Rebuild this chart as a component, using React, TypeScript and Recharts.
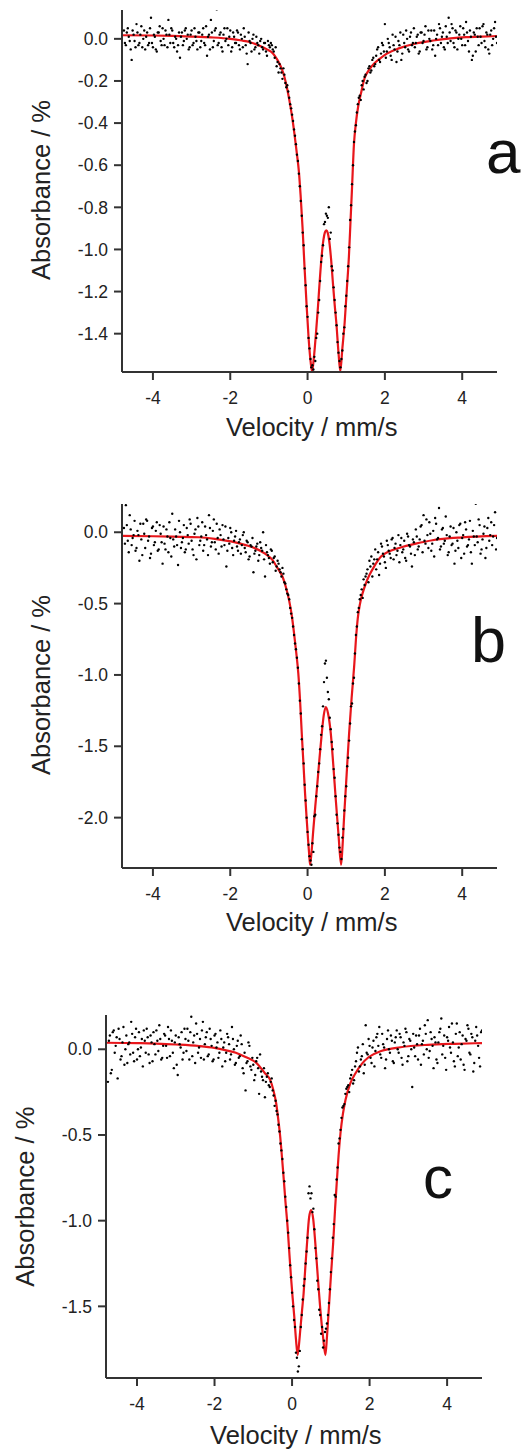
import React from "react";
import { ComposedChart, Line, Scatter, XAxis, YAxis, Label } from "recharts";

// velocity channels (mm/s), even and odd halves of the spectrum
const VELOCITY = [
  -4.75, -4.7, -4.65, -4.6, -4.55, -4.5, -4.45, -4.4, -4.35, -4.3,
  -4.25, -4.2, -4.15, -4.1, -4.05, -4, -3.95, -3.9, -3.85, -3.8,
  -3.75, -3.7, -3.65, -3.6, -3.55, -3.5, -3.45, -3.4, -3.35, -3.3,
  -3.25, -3.2, -3.15, -3.1, -3.05, -3, -2.95, -2.9, -2.85, -2.8,
  -2.75, -2.7, -2.65, -2.6, -2.55, -2.5, -2.45, -2.4, -2.35, -2.3,
  -2.25, -2.2, -2.15, -2.1, -2.05, -2, -1.95, -1.9, -1.85, -1.8,
  -1.75, -1.7, -1.65, -1.6, -1.55, -1.5, -1.45, -1.4, -1.35, -1.3,
  -1.25, -1.2, -1.15, -1.1, -1.05, -1, -0.95, -0.9, -0.85, -0.8,
  -0.75, -0.7, -0.65, -0.6, -0.55, -0.5, -0.45, -0.4, -0.35, -0.3,
  -0.25, -0.2, -0.15, -0.1, -0.05, 0, 0.05, 0.1, 0.15, 0.2,
  0.25, 0.3, 0.35, 0.4, 0.45, 0.5, 0.55, 0.6, 0.65, 0.7,
  0.75, 0.8, 0.85, 0.9, 0.95, 1, 1.05, 1.1, 1.15, 1.2,
  1.25, 1.3, 1.35, 1.4, 1.45, 1.5, 1.55, 1.6, 1.65, 1.7,
  1.75, 1.8, 1.85, 1.9, 1.95, 2, 2.05, 2.1, 2.15, 2.2,
  2.25, 2.3, 2.35, 2.4, 2.45, 2.5, 2.55, 2.6, 2.65, 2.7,
  2.75, 2.8, 2.85, 2.9, 2.95, 3, 3.05, 3.1, 3.15, 3.2,
  3.25, 3.3, 3.35, 3.4, 3.45, 3.5, 3.55, 3.6, 3.65, 3.7,
  3.75, 3.8, 3.85, 3.9, 3.95, 4, 4.05, 4.1, 4.15, 4.2,
  4.25, 4.3, 4.35, 4.4, 4.45, 4.5, 4.55, 4.6, 4.65, 4.7,
  4.75, 4.8, 4.85, 4.9,
];

const VELOCITY_ODD = [
  -4.725, -4.675, -4.625, -4.575, -4.525, -4.475, -4.425, -4.375, -4.325, -4.275,
  -4.225, -4.175, -4.125, -4.075, -4.025, -3.975, -3.925, -3.875, -3.825, -3.775,
  -3.725, -3.675, -3.625, -3.575, -3.525, -3.475, -3.425, -3.375, -3.325, -3.275,
  -3.225, -3.175, -3.125, -3.075, -3.025, -2.975, -2.925, -2.875, -2.825, -2.775,
  -2.725, -2.675, -2.625, -2.575, -2.525, -2.475, -2.425, -2.375, -2.325, -2.275,
  -2.225, -2.175, -2.125, -2.075, -2.025, -1.975, -1.925, -1.875, -1.825, -1.775,
  -1.725, -1.675, -1.625, -1.575, -1.525, -1.475, -1.425, -1.375, -1.325, -1.275,
  -1.225, -1.175, -1.125, -1.075, -1.025, -0.975, -0.925, -0.875, -0.825, -0.775,
  -0.725, -0.675, -0.625, -0.575, -0.525, -0.475, -0.425, -0.375, -0.325, -0.275,
  -0.225, -0.175, -0.125, -0.075, -0.025, 0.025, 0.075, 0.125, 0.175, 0.225,
  0.275, 0.325, 0.375, 0.425, 0.475, 0.525, 0.575, 0.625, 0.675, 0.725,
  0.775, 0.825, 0.875, 0.925, 0.975, 1.025, 1.075, 1.125, 1.175, 1.225,
  1.275, 1.325, 1.375, 1.425, 1.475, 1.525, 1.575, 1.625, 1.675, 1.725,
  1.775, 1.825, 1.875, 1.925, 1.975, 2.025, 2.075, 2.125, 2.175, 2.225,
  2.275, 2.325, 2.375, 2.425, 2.475, 2.525, 2.575, 2.625, 2.675, 2.725,
  2.775, 2.825, 2.875, 2.925, 2.975, 3.025, 3.075, 3.125, 3.175, 3.225,
  3.275, 3.325, 3.375, 3.425, 3.475, 3.525, 3.575, 3.625, 3.675, 3.725,
  3.775, 3.825, 3.875, 3.925, 3.975, 4.025, 4.075, 4.125, 4.175, 4.225,
  4.275, 4.325, 4.375, 4.425, 4.475, 4.525, 4.575, 4.625, 4.675, 4.725,
  4.775, 4.825, 4.875,
];

// measured absorbance (%)
const ABS_A = [
  0.04, -0.03, 0.05, -0.01, -0.1, 0.02, -0.04, 0.03, -0.02, 0.06,
  0.0, -0.05, 0.03, -0.02, 0.1, -0.04, 0.01, -0.06, 0.03, -0.01,
  0.05, -0.03, 0.02, 0.09, -0.02, 0.04, -0.04, 0.0, -0.03, -0.09,
  0.03, -0.01, 0.05, 0.02, -0.04, 0.04, -0.02, 0.01, -0.05, 0.03,
  -0.01, 0.05, -0.03, -0.08, 0.02, 0.09, -0.04, 0.04, 0.14, -0.02,
  0.03, -0.06, 0.05, 0.0, -0.03, 0.04, -0.04, 0.01, -0.02, 0.03,
  -0.05, 0.0, 0.05, -0.03, -0.12, -0.01, -0.06, 0.02, -0.04, -0.02,
  -0.07, 0.0, -0.05, -0.02, -0.08, -0.03, -0.02, -0.05, -0.09, -0.13,
  -0.16, -0.14, -0.19, -0.17, -0.23, -0.25, -0.31, -0.36, -0.43, -0.5,
  -0.58, -0.7, -0.84, -0.98, -1.17, -1.32, -1.47, -1.56, -1.57, -1.53,
  -1.4, -1.24, -1.06, -0.98, -0.87, -0.84, -0.8, -0.92, -1.1, -1.24,
  -1.36, -1.49, -1.56, -1.48, -1.37, -1.22, -1.08, -0.86, -0.69, -0.49,
  -0.41, -0.31, -0.27, -0.22, -0.24, -0.17, -0.2, -0.13, -0.15, -0.09,
  -0.12, -0.05, -0.1, -0.07, -0.03, 0.07, -0.06, -0.02, -0.08, 0.02,
  -0.05, -0.11, -0.01, 0.03, -0.07, -0.02, 0.04, -0.05, 0.01, -0.03,
  0.05, -0.02, 0.02, -0.06, 0.03, -0.01, 0.06, -0.04, 0.0, 0.04,
  -0.03, -0.08, 0.02, 0.07, -0.02, 0.03, -0.05, 0.01, 0.1, -0.01,
  0.05, -0.04, 0.03, 0.0, 0.06, -0.03, 0.02, 0.08, -0.01, 0.04,
  -0.1, 0.03, -0.06, 0.01, 0.05, -0.02, 0.07, -0.04, 0.02, -0.07,
  0.04, 0.0, 0.08, -0.02,
];

const ABS_A_ODD = [
  -0.02, 0.03, 0.01, -0.05, 0.04, -0.01, 0.07, -0.03, 0.02, -0.04,
  0.04, 0.01, -0.03, 0.05, -0.02, 0.02, -0.05, 0.03, 0.06, -0.03,
  0.0, 0.04, -0.04, 0.02, 0.05, -0.02, 0.01, -0.06, 0.03, 0.01,
  -0.03, 0.04, 0.0, -0.05, 0.02, -0.03, 0.05, -0.01, 0.03, -0.04,
  0.02, -0.02, 0.06, 0.01, -0.05, 0.03, -0.01, 0.05, -0.03, 0.02,
  -0.04, 0.02, -0.01, 0.05, 0.01, -0.06, 0.03, -0.02, 0.04, -0.03,
  0.02, -0.04, 0.01, -0.07, 0.03, -0.02, 0.0, -0.05, 0.01, -0.03,
  -0.01, -0.04, -0.02, -0.06, -0.01, -0.04, -0.03, -0.06, -0.04, -0.11,
  -0.12, -0.16, -0.14, -0.21, -0.22, -0.28, -0.33, -0.39, -0.46, -0.55,
  -0.64, -0.77, -0.92, -1.09, -1.27, -1.42, -1.52, -1.55, -1.51, -1.42,
  -1.3, -1.15, -1.03, -0.88, -0.83, -0.85, -0.95, -1.08, -1.18, -1.3,
  -1.44, -1.53, -1.52, -1.4, -1.27, -1.15, -0.99, -0.79, -0.6, -0.44,
  -0.35, -0.28, -0.29, -0.2, -0.18, -0.21, -0.14, -0.16, -0.1, -0.13,
  -0.08, -0.04, -0.11, -0.02, -0.06, -0.09, 0.0, -0.04, -0.1, -0.03,
  0.01, -0.06, -0.03, -0.1, 0.02, -0.04, 0.0, -0.06, 0.03, -0.02,
  -0.04, 0.01, -0.07, 0.03, -0.02, 0.02, -0.05, 0.04, -0.01, -0.05,
  0.04, 0.0, -0.03, 0.05, 0.01, -0.04, 0.06, -0.02, 0.03, 0.07,
  -0.02, 0.04, -0.05, 0.02, 0.0, 0.05, -0.03, 0.03, -0.06, 0.01,
  -0.08, 0.02, 0.05, -0.03, 0.01, 0.06, -0.01, 0.03, -0.05, 0.02,
  -0.03, 0.05, 0.01,
];

const ABS_B = [
  0.03, 0.19, -0.06, 0.12, -0.09, -0.02, -0.13, 0.01, -0.2, -0.05,
  0.06, -0.11, 0.08, -0.03, -0.15, 0.04, -0.07, 0.07, -0.12, -0.01,
  -0.22, -0.08, 0.02, -0.14, -0.04, 0.13, -0.1, -0.03, -0.23, 0.0,
  -0.07, 0.05, -0.12, -0.02, 0.09, -0.06, -0.16, 0.02, 0.1, -0.09,
  -0.03, -0.13, 0.04, -0.05, 0.12, -0.1, 0.01, -0.07, 0.06, -0.15,
  -0.02, 0.05, -0.09, -0.24, -0.04, 0.03, -0.11, -0.06, 0.01, -0.13,
  -0.05, -0.09, 0.0, -0.14, -0.07, -0.17, -0.1, -0.28, -0.13, -0.08,
  -0.16, -0.11, 0.0, -0.31, -0.14, -0.18, -0.12, -0.21, -0.17, -0.24,
  -0.22, -0.28, -0.25, -0.35, -0.4, -0.44, -0.53, -0.6, -0.72, -0.82,
  -0.95, -1.18, -1.45, -1.62, -1.88, -2.1, -2.27, -2.33, -2.24, -1.98,
  -1.78, -1.62, -1.42, -1.22, -0.92, -1.02, -1.17, -1.38, -1.52, -1.72,
  -1.98, -2.12, -2.24, -2.14, -1.95, -1.78, -1.58, -1.34, -1.2, -1.02,
  -0.72, -0.56, -0.47, -0.4, -0.33, -0.31, -0.26, -0.2, -0.17, -0.22,
  -0.12, -0.19, -0.3, -0.08, -0.15, -0.21, -0.06, -0.13, -0.18, -0.04,
  -0.11, -0.16, -0.02, -0.09, -0.14, -0.06, -0.2, -0.03, -0.1, -0.24,
  -0.07, 0.02, -0.12, -0.05, 0.05, 0.12, -0.08, -0.02, 0.07, -0.13,
  0.01, 0.1, -0.05, 0.17, -0.1, 0.03, -0.06, -0.02, -0.14, 0.04,
  -0.08, -0.22, 0.0, -0.11, 0.06, -0.04, -0.15, 0.02, -0.09, 0.08,
  -0.22, -0.03, 0.2, -0.07, 0.05, -0.12, -0.01, -0.18, 0.03, -0.06,
  0.07, -0.03, 0.14, -0.04,
];

const ABS_B_ODD = [
  -0.08, 0.05, -0.14, 0.02, -0.04, 0.08, -0.11, -0.02, 0.06, -0.16,
  -0.01, 0.09, -0.06, -0.18, 0.03, -0.09, 0.01, -0.13, 0.05, -0.07,
  0.04, -0.12, -0.03, 0.07, -0.17, -0.05, 0.02, -0.09, 0.08, -0.11,
  -0.04, -0.14, 0.03, -0.08, 0.06, -0.12, -0.01, -0.19, 0.04, -0.06,
  0.07, -0.09, -0.02, -0.16, 0.03, -0.07, 0.09, -0.12, -0.04, 0.02,
  -0.1, -0.05, 0.04, -0.13, -0.08, 0.0, -0.16, -0.03, -0.1, -0.07,
  -0.15, -0.02, -0.11, -0.06, -0.19, -0.09, -0.04, -0.15, -0.1, -0.2,
  -0.07, -0.13, -0.19, -0.09, -0.16, -0.22, -0.13, -0.18, -0.27, -0.2,
  -0.26, -0.31, -0.29, -0.36, -0.43, -0.47, -0.57, -0.66, -0.78, -0.88,
  -1.06, -1.27, -1.52, -1.77, -2.0, -2.19, -2.3, -2.18, -1.99, -1.85,
  -1.68, -1.52, -1.36, -1.05, -0.9, -1.12, -1.3, -1.47, -1.66, -1.85,
  -2.04, -2.21, -2.29, -2.08, -1.85, -1.64, -1.46, -1.22, -1.06, -0.85,
  -0.66, -0.53, -0.44, -0.46, -0.37, -0.29, -0.35, -0.24, -0.31, -0.19,
  -0.26, -0.14, -0.22, -0.1, -0.17, -0.25, -0.09, -0.15, -0.05, -0.19,
  -0.08, -0.13, -0.21, -0.04, -0.12, -0.18, -0.01, -0.09, -0.15, -0.05,
  -0.16, -0.03, -0.1, 0.04, -0.14, -0.06, 0.09, -0.11, -0.01, -0.08,
  -0.17, 0.06, -0.04, -0.12, 0.02, -0.08, 0.11, -0.16, -0.03, -0.09,
  0.03, -0.13, -0.06, 0.05, -0.18, -0.02, 0.07, -0.1, -0.05, -0.14,
  0.01, -0.09, -0.03, 0.09, -0.15, -0.05, 0.04, -0.11, 0.1, -0.02,
  -0.09, 0.05, -0.12,
];

const ABS_C = [
  -0.19, 0.08, -0.12, 0.11, 0.02, -0.17, 0.06, -0.04, 0.13, 0.0,
  -0.08, 0.04, 0.16, -0.02, 0.07, -0.06, 0.1, 0.01, -0.1, 0.05,
  0.12, -0.03, 0.08, -0.07, 0.03, 0.11, -0.01, 0.06, -0.05, 0.09,
  0.02, 0.13, -0.04, 0.05, -0.11, 0.08, -0.15, 0.03, 0.1, -0.02,
  0.06, 0.12, -0.06, 0.19, 0.04, -0.08, 0.09, 0.01, -0.05, 0.16,
  0.03, 0.1, -0.03, 0.06, -0.07, 0.08, 0.01, -0.05, 0.11, -0.1,
  0.04, -0.02, 0.07, -0.06, 0.13, 0.0, -0.08, 0.05, -0.04, 0.03,
  -0.14, -0.24, -0.07, 0.02, -0.12, -0.09, -0.15, -0.05, -0.26, -0.13,
  -0.18, -0.28, -0.16, -0.21, -0.19, -0.24, -0.33, -0.36, -0.44, -0.55,
  -0.64, -0.77, -0.92, -1.07, -1.26, -1.42, -1.58, -1.77, -1.88, -1.76,
  -1.55, -1.38, -1.25, -1.1, -0.8, -0.84, -0.93, -1.16, -1.35, -1.52,
  -1.66, -1.74, -1.65, -1.6, -1.48, -1.3, -1.1, -0.85, -0.76, -0.55,
  -0.47, -0.34, -0.32, -0.23, -0.21, -0.17, -0.12, -0.18, -0.07, 0.01,
  -0.1, -0.04, -0.14, 0.14, -0.03, 0.02, -0.08, 0.05, -0.01, 0.09,
  0.13, -0.05, 0.03, -0.11, 0.06, 0.0, 0.08, -0.07, 0.04, 0.11,
  -0.02, 0.07, -0.09, 0.02, 0.1, -0.04, 0.05, -0.22, 0.01, 0.08,
  -0.06, 0.12, 0.03, -0.03, 0.09, 0.17, -0.01, 0.06, -0.11, 0.04,
  -0.08, 0.1, 0.18, 0.02, -0.05, 0.07, 0.13, -0.02, 0.04, -0.1,
  0.15, 0.01, -0.06, 0.08, -0.12, 0.05, 0.12, -0.03, 0.07, -0.08,
  0.13, 0.02, -0.1, 0.11,
];

const ABS_C_ODD = [
  0.05, -0.14, 0.1, -0.02, 0.07, 0.12, -0.06, 0.04, -0.09, 0.08,
  0.03, -0.03, 0.09, -0.07, 0.12, 0.0, -0.04, 0.06, 0.11, -0.02,
  0.07, -0.08, 0.04, 0.1, -0.03, 0.05, 0.14, -0.06, 0.02, 0.08,
  -0.05, 0.06, 0.11, -0.02, 0.04, -0.09, 0.07, 0.01, -0.06, 0.12,
  -0.01, 0.05, 0.1, -0.04, 0.08, 0.15, -0.02, 0.06, 0.11, -0.06,
  0.07, -0.04, 0.12, 0.02, -0.06, 0.09, 0.04, -0.02, 0.06, 0.01,
  -0.07, 0.09, 0.03, -0.03, 0.06, -0.09, 0.02, -0.05, 0.08, -0.11,
  -0.02, -0.08, 0.04, -0.1, -0.05, -0.18, -0.07, -0.11, -0.03, -0.16,
  -0.11, -0.19, -0.14, -0.22, -0.17, -0.27, -0.3, -0.38, -0.48, -0.59,
  -0.72, -0.86, -1.0, -1.16, -1.33, -1.5, -1.62, -1.8, -1.85, -1.62,
  -1.46, -1.34, -1.18, -0.84, -0.87, -0.95, -1.05, -1.22, -1.4, -1.55,
  -1.62, -1.7, -1.63, -1.55, -1.4, -1.22, -1.02, -0.86, -0.69, -0.52,
  -0.4, -0.33, -0.26, -0.22, -0.25, -0.15, -0.2, -0.1, -0.02, -0.13,
  -0.06, 0.03, -0.09, -0.02, 0.06, -0.05, 0.01, -0.1, 0.07, 0.02,
  -0.03, 0.09, 0.01, -0.06, 0.11, -0.02, 0.05, -0.08, 0.07, 0.0,
  0.09, -0.05, 0.04, 0.12, -0.07, 0.06, 0.0, 0.09, -0.04, 0.03,
  0.08, -0.09, 0.05, 0.14, 0.0, -0.05, 0.1, 0.02, 0.07, -0.06,
  0.04, 0.12, -0.03, 0.08, -0.12, 0.05, 0.01, 0.15, -0.07, 0.09,
  -0.04, 0.1, 0.03, -0.09, 0.06, 0.14, -0.02, 0.09, -0.13, 0.05,
  0.08, -0.05, 0.1,
];

// fitted doublets, [velocity, absorbance]
const FIT_A: [number, number][] = [
  [-4.8, 0.017], [-4.0, 0.016], [-3.5, 0.014], [-3.0, 0.011], [-2.5, 0.007],
  [-2.0, 0.0], [-1.7, -0.008], [-1.5, -0.015], [-1.24, -0.033], [-1.05, -0.05],
  [-0.9, -0.068], [-0.78, -0.1], [-0.68, -0.137], [-0.6, -0.18], [-0.53, -0.235],
  [-0.466, -0.297], [-0.4, -0.37], [-0.337, -0.455], [-0.28, -0.54], [-0.225, -0.629],
  [-0.181, -0.74], [-0.13, -0.896], [-0.078, -1.086], [-0.026, -1.261], [0.026, -1.418],
  [0.078, -1.532], [0.117, -1.579], [0.16, -1.52], [0.225, -1.38], [0.27, -1.27],
  [0.311, -1.158], [0.36, -1.04], [0.41, -0.955], [0.45, -0.918], [0.484, -0.909],
  [0.52, -0.92], [0.56, -0.96], [0.61, -1.05], [0.655, -1.158], [0.7, -1.26],
  [0.744, -1.348], [0.8, -1.49], [0.847, -1.579], [0.9, -1.47], [0.959, -1.348],
  [1.015, -1.19], [1.07, -1.032], [1.11, -0.87], [1.148, -0.716], [1.2, -0.5],
  [1.25, -0.4], [1.31, -0.32], [1.38, -0.26], [1.477, -0.186], [1.6, -0.145],
  [1.736, -0.115], [1.865, -0.095], [2.05, -0.07], [2.38, -0.044], [2.8, -0.022],
  [3.25, -0.008], [3.7, 0.002], [4.1, 0.008], [4.5, 0.011], [4.9, 0.013],
];

const FIT_B: [number, number][] = [
  [-4.8, -0.025], [-4.0, -0.028], [-3.5, -0.031], [-2.81, -0.035], [-2.4, -0.046],
  [-1.95, -0.066], [-1.6, -0.09], [-1.35, -0.113], [-1.1, -0.15], [-0.91, -0.194],
  [-0.78, -0.25], [-0.65, -0.31], [-0.56, -0.385], [-0.48, -0.474], [-0.41, -0.58],
  [-0.35, -0.707], [-0.29, -0.85], [-0.24, -0.987], [-0.19, -1.2], [-0.15, -1.41],
  [-0.105, -1.63], [-0.065, -1.83], [-0.025, -2.0], [0.013, -2.155], [0.045, -2.27],
  [0.065, -2.33], [0.1, -2.25], [0.15, -2.08], [0.2, -1.92], [0.254, -1.758],
  [0.31, -1.58], [0.368, -1.408], [0.42, -1.28], [0.472, -1.225], [0.53, -1.27],
  [0.6, -1.408], [0.665, -1.63], [0.73, -1.875], [0.8, -2.12], [0.868, -2.33],
  [0.9, -2.22], [0.946, -1.99], [1.01, -1.7], [1.075, -1.408], [1.14, -1.16],
  [1.205, -0.94], [1.26, -0.72], [1.3, -0.6], [1.35, -0.51], [1.42, -0.43],
  [1.51, -0.357], [1.6, -0.3], [1.72, -0.241], [1.9, -0.17], [2.1, -0.135],
  [2.37, -0.11], [2.8, -0.08], [3.23, -0.056], [4.0, -0.036], [4.9, -0.026],
];

const FIT_C: [number, number][] = [
  [-4.8, 0.038], [-4.0, 0.036], [-3.5, 0.033], [-3.0, 0.028], [-2.4, 0.019],
  [-2.0, 0.008], [-1.7, -0.006], [-1.45, -0.02], [-1.2, -0.045], [-0.909, -0.082],
  [-0.7, -0.14], [-0.565, -0.179], [-0.48, -0.24], [-0.41, -0.315], [-0.35, -0.42],
  [-0.306, -0.51], [-0.26, -0.63], [-0.22, -0.743], [-0.17, -0.89], [-0.116, -1.035],
  [-0.07, -1.19], [-0.028, -1.327], [0.015, -1.45], [0.057, -1.56], [0.1, -1.69],
  [0.143, -1.784], [0.18, -1.72], [0.212, -1.638], [0.255, -1.53], [0.298, -1.424],
  [0.34, -1.28], [0.386, -1.132], [0.44, -0.98], [0.49, -0.938], [0.545, -0.99],
  [0.6, -1.132], [0.665, -1.33], [0.73, -1.521], [0.8, -1.68], [0.86, -1.784],
  [0.9, -1.68], [0.946, -1.521], [1.0, -1.33], [1.06, -1.132], [1.11, -0.93],
  [1.163, -0.743], [1.2, -0.62], [1.249, -0.49], [1.31, -0.38], [1.378, -0.296],
  [1.5, -0.2], [1.637, -0.14], [1.8, -0.085], [1.98, -0.045], [2.3, -0.01],
  [2.8, 0.012], [3.5, 0.026], [4.2, 0.032], [4.9, 0.036],
];

const X_TICKS = [-4, -2, 0, 2, 4];
const Y_TICKS_A = [0, -0.2, -0.4, -0.6, -0.8, -1.0, -1.2, -1.4];
const Y_TICKS_B = [0, -0.5, -1.0, -1.5, -2.0];
const Y_TICKS_C = [0, -0.5, -1.0, -1.5];

const FONT = "'Liberation Sans', Arial, Helvetica, sans-serif";
const AXIS = "#333";
const RED = "#e8161b";
const X_AXIS_H = 40;

const toPoints = (even: number[], odd: number[]) =>
  VELOCITY.map((x, i) => ({ x, y: even[i] })).concat(
    VELOCITY_ODD.map((x, i) => ({ x, y: odd[i] }))
  );
const toFit = (pairs: [number, number][]) => pairs.map(([x, y]) => ({ x, y }));

const dot = (p: any) => <circle cx={p.cx} cy={p.cy} r={1.2} fill="#000" />;

interface PanelProps {
  top: number;
  height: number;
  plot: { top: number; bottom: number; left: number; right: number };
  yDomain: [number, number];
  yTicks: number[];
  ys: number[];
  ysOdd: number[];
  fit: [number, number][];
  letter: string;
  letterAt: [number, number, number];
  xTitleAt: [number, number];
  yTitleAt: [number, number];
}

function Panel(p: PanelProps) {
  const tick = { fill: "#222", fontSize: 17.5, fontFamily: FONT };
  return (
    <div style={{ position: "absolute", left: 0, top: p.top }}>
      <ComposedChart
        width={526}
        height={p.height}
        margin={{
          top: p.plot.top,
          right: 526 - p.plot.right,
          bottom: p.height - p.plot.bottom - X_AXIS_H,
          left: 0,
        }}
      >
        <XAxis
          type="number"
          dataKey="x"
          domain={[-4.8, 4.9]}
          ticks={X_TICKS}
          allowDataOverflow
          height={X_AXIS_H}
          tickSize={8}
          tickMargin={12}
          tick={tick}
          axisLine={{ stroke: AXIS, strokeWidth: 2 }}
          tickLine={{ stroke: AXIS, strokeWidth: 2 }}
        >
          <Label
            content={() => (
              <g>
                <text
                  x={p.xTitleAt[0]}
                  y={p.xTitleAt[1]}
                  textAnchor="middle"
                  fontSize={25.5}
                  fontFamily={FONT}
                  fill="#222"
                >
                  Velocity / mm/s
                </text>
                <text
                  x={p.letterAt[0]}
                  y={p.letterAt[1]}
                  fontSize={p.letterAt[2]}
                  fontFamily={FONT}
                  fill="#111"
                >
                  {p.letter}
                </text>
              </g>
            )}
          />
        </XAxis>
        <YAxis
          type="number"
          dataKey="y"
          domain={p.yDomain}
          ticks={p.yTicks}
          allowDataOverflow
          width={p.plot.left}
          tickSize={8}
          tickMargin={6}
          tick={tick}
          tickFormatter={(v: number) => v.toFixed(1)}
          axisLine={{ stroke: AXIS, strokeWidth: 2 }}
          tickLine={{ stroke: AXIS, strokeWidth: 2 }}
        >
          <Label
            content={() => (
              <text
                transform={`translate(${p.yTitleAt[0]}, ${p.yTitleAt[1]}) rotate(-90)`}
                textAnchor="middle"
                fontSize={25.5}
                fontFamily={FONT}
                fill="#222"
              >
                Absorbance / %
              </text>
            )}
          />
        </YAxis>
        <Line
          data={toFit(p.fit)}
          dataKey="y"
          type="monotone"
          stroke={RED}
          strokeWidth={2.2}
          dot={false}
          isAnimationActive={false}
        />
        <Scatter
          data={toPoints(p.ys, p.ysOdd)}
          dataKey="y"
          shape={dot}
          isAnimationActive={false}
        />
      </ComposedChart>
    </div>
  );
}

export default function App() {
  return (
    <div
      style={{
        position: "absolute",
        left: 0,
        top: 0,
        width: 526,
        height: 1452,
        overflow: "hidden",
        background: "#fff",
      }}
    >
      <Panel
        top={0}
        height={480}
        plot={{ top: 10, bottom: 372, left: 122, right: 497 }}
        yDomain={[-1.582, 0.137]}
        yTicks={Y_TICKS_A}
        ys={ABS_A}
        ysOdd={ABS_A_ODD}
        fit={FIT_A}
        letter="a"
        letterAt={[486, 173, 62]}
        xTitleAt={[311.7, 435.5]}
        yTitleAt={[49.5, 190]}
      />
      <Panel
        top={480}
        height={480}
        plot={{ top: 24, bottom: 388, left: 122, right: 497 }}
        yDomain={[-2.353, 0.198]}
        yTicks={Y_TICKS_B}
        ys={ABS_B}
        ysOdd={ABS_B_ODD}
        fit={FIT_B}
        letter="b"
        letterAt={[471, 181.7, 63]}
        xTitleAt={[311.7, 451.3]}
        yTitleAt={[49.5, 205]}
      />
      <Panel
        top={960}
        height={492}
        plot={{ top: 55, bottom: 418, left: 106, right: 482 }}
        yDomain={[-1.918, 0.2]}
        yTicks={Y_TICKS_C}
        ys={ABS_C}
        ysOdd={ABS_C_ODD}
        fit={FIT_C}
        letter="c"
        letterAt={[423, 238.3, 60]}
        xTitleAt={[295.8, 483.5]}
        yTitleAt={[33.5, 236.7]}
      />
    </div>
  );
}
